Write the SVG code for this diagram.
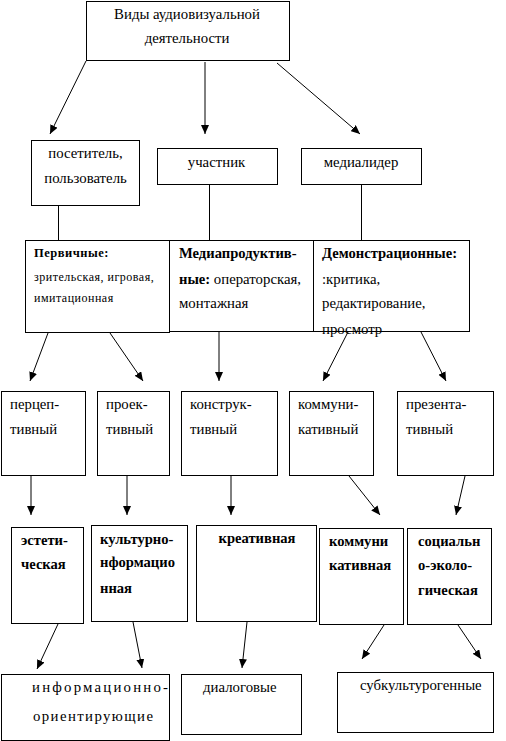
<svg xmlns="http://www.w3.org/2000/svg" width="506" height="741" viewBox="0 0 506 741">
<defs>
<marker id="ah" markerUnits="userSpaceOnUse" markerWidth="9" markerHeight="8" refX="9" refY="4" orient="auto">
<path d="M0,0 L9,4 L0,8 z" fill="#000"/>
</marker>
<style>
rect{fill:#fff;stroke:#000;stroke-width:1}
text{font-family:"Liberation Serif","Times New Roman",serif;font-size:14.8px;fill:#000}
.c{text-anchor:middle}
.b{font-weight:bold;font-size:14.6px}
.s{font-size:12px;letter-spacing:0.5px}
.sb{font-weight:bold;font-size:12.5px;letter-spacing:0.5px}
#connectors line{stroke:#000;stroke-width:1;fill:none}
#connectors .a{marker-end:url(#ah)}
</style>
</defs>
<rect x="0" y="0" width="506" height="741" style="fill:#fff;stroke:none"/>
<g id="connectors">
<line class="a" x1="86" y1="61" x2="50" y2="134"/>
<line class="a" x1="205" y1="62" x2="205" y2="134"/>
<line class="a" x1="277" y1="63" x2="360" y2="134"/>
<line x1="58.5" y1="205" x2="58.5" y2="240"/>
<line x1="209.5" y1="184" x2="209.5" y2="240"/>
<line x1="361.5" y1="178" x2="361.5" y2="240"/>
<line class="a" x1="48" y1="333" x2="30" y2="381"/>
<line class="a" x1="110" y1="333" x2="143" y2="381"/>
<line class="a" x1="219" y1="332" x2="219" y2="381"/>
<line class="a" x1="348" y1="332" x2="323" y2="381"/>
<line class="a" x1="421" y1="332" x2="446" y2="381"/>
<line class="a" x1="31" y1="476" x2="31" y2="515"/>
<line class="a" x1="127" y1="476" x2="127" y2="515"/>
<line class="a" x1="231" y1="476" x2="231" y2="515"/>
<line class="a" x1="349" y1="476" x2="380" y2="515"/>
<line class="a" x1="465" y1="476" x2="456" y2="515"/>
<line class="a" x1="58" y1="624" x2="37" y2="669"/>
<line class="a" x1="133" y1="622" x2="142" y2="668"/>
<line class="a" x1="247" y1="622" x2="242" y2="668"/>
<line class="a" x1="384" y1="625" x2="362" y2="659"/>
<line class="a" x1="458" y1="625" x2="481" y2="659"/>
</g>
<g id="n-top"><rect x="86.5" y="1.5" width="203" height="59"/>
<text class="c" x="187" y="19">Виды аудиовизуальной</text>
<text class="c" x="187" y="43">деятельности</text></g>
<g id="n-posetitel"><rect x="31.5" y="140.5" width="108" height="65"/>
<text class="c" x="85.5" y="158">посетитель,</text>
<text class="c" x="85.5" y="183">пользователь</text></g>
<g id="n-uchastnik"><rect x="157.5" y="148.5" width="120" height="36"/>
<text class="c" x="216.5" y="167">участник</text></g>
<g id="n-medialider"><rect x="301.5" y="148.5" width="120" height="36"/>
<text class="c" x="361" y="167">медиалидер</text></g>
<g id="n-pervichnye"><rect x="25.5" y="240.5" width="144" height="92"/>
<text class="sb" x="34" y="257">Первичные:</text>
<text class="s" x="34" y="281">зрительская, игровая,</text>
<text class="s" x="34" y="302">имитационная</text></g>
<g id="n-mediaprod"><rect x="169.5" y="240.5" width="144" height="91"/>
<text class="b" x="179" y="258">Медиапродуктив-</text>
<text x="179" y="284"><tspan class="b">ные:</tspan> операторская,</text>
<text x="179" y="308">монтажная</text></g>
<g id="n-demonstr"><rect x="313.5" y="240.5" width="156" height="91"/>
<text class="b" x="322" y="258">Демонстрационные:</text>
<text x="322" y="284">:критика,</text>
<text x="322" y="308">редактирование,</text>
<text x="322" y="334">просмотр</text></g>
<g id="n-percep"><rect x="1.5" y="391.5" width="84" height="84"/>
<text x="10" y="409">перцеп-</text><text x="10" y="434">тивный</text></g>
<g id="n-proek"><rect x="97.5" y="391.5" width="72" height="84"/>
<text x="106" y="409">проек-</text><text x="106" y="434">тивный</text></g>
<g id="n-konstr"><rect x="181.5" y="391.5" width="96" height="84"/>
<text x="190" y="409">конструк-</text><text x="190" y="434">тивный</text></g>
<g id="n-kommun"><rect x="289.5" y="391.5" width="84" height="84"/>
<text x="298" y="409">коммуни-</text><text x="298" y="434">кативный</text></g>
<g id="n-prezent"><rect x="397.5" y="391.5" width="96" height="84"/>
<text x="406" y="409">презента-</text><text x="406" y="434">тивный</text></g>
<g id="n-estet"><rect x="11.5" y="527.5" width="72" height="96"/>
<text class="b" x="21" y="545">эстети-</text><text class="b" x="21" y="569">ческая</text></g>
<g id="n-kultinf"><rect x="91.5" y="525.5" width="96" height="96"/>
<text class="b" x="100" y="544">культурно-</text><text class="b" x="100" y="567">нформацио</text><text class="b" x="100" y="593">нная</text></g>
<g id="n-kreativ"><rect x="196.5" y="525.5" width="120" height="96"/>
<text class="b c" x="257" y="543">креативная</text></g>
<g id="n-kommunik"><rect x="319.5" y="528.5" width="84" height="96"/>
<text class="b" x="329" y="546">коммуни</text><text class="b" x="329" y="570">кативная</text></g>
<g id="n-socekol"><rect x="407.5" y="528.5" width="84" height="96"/>
<text class="b" x="418" y="546">социальн</text><text class="b" x="418" y="570">о-эколо-</text><text class="b" x="418" y="595">гическая</text></g>
<g id="n-inform"><rect x="1.5" y="674.5" width="168" height="66"/>
<text x="32" y="692" textLength="136" lengthAdjust="spacing">информационно-</text>
<text x="33" y="721" textLength="120" lengthAdjust="spacing">ориентирующие</text></g>
<g id="n-dialog"><rect x="181.5" y="674.5" width="120" height="60"/>
<text x="203" y="692">диалоговые</text></g>
<g id="n-subkult"><rect x="337.5" y="672.5" width="156" height="60"/>
<text x="360" y="690">субкультурогенные</text></g>
</svg>
